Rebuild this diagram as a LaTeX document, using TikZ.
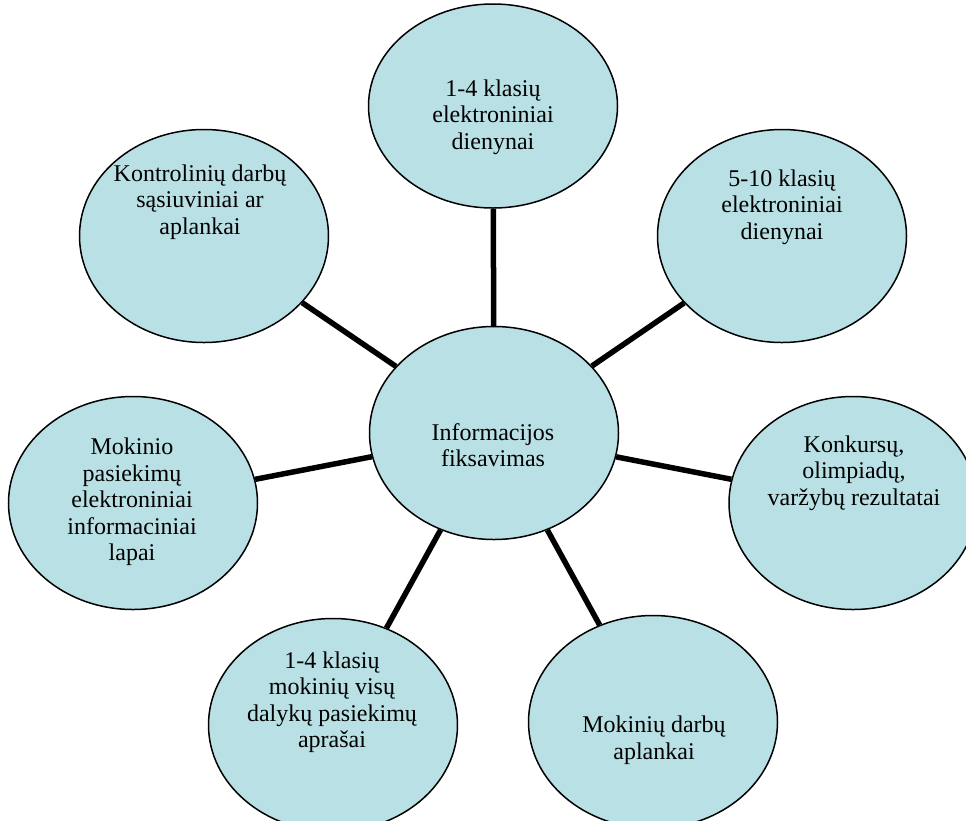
\documentclass[tikz,border=0pt]{standalone}
\usepackage{fontspec}
\setmainfont{Liberation Serif}
\usetikzlibrary{shapes.geometric}
\definecolor{bubble}{RGB}{185,224,228}
\tikzset{
  bub/.style={ellipse, draw=black, line width=1.5pt, fill=bubble, inner sep=0pt,
    minimum width=249pt, minimum height=213pt},
  lbl/.style={align=center, inner sep=0pt, font=\fontsize{24}{26.5}\selectfont},
  link/.style={line width=5.5pt, black}
}
\begin{document}
\begin{tikzpicture}[x=1pt,y=-1pt]
\useasboundingbox (0,0) rectangle (966,820);
\clip (0,0) rectangle (966,820);
\node[bub, minimum height=204pt] (t) at (493,106) {};
\node[bub] (c) at (494,433) {};
\node[bub] (tr) at (782,236) {};
\node[bub, minimum width=248pt] (r) at (853,503) {};
\node[bub] (br) at (653,722) {};
\node[bub] (bl) at (333,725) {};
\node[bub] (l) at (133,503) {};
\node[bub] (tl) at (204,236) {};

\draw[link] (c) -- (t);
\draw[link] (c) -- (tr);
\draw[link] (c) -- (r);
\draw[link] (c) -- (br);
\draw[link] (c) -- (bl);
\draw[link] (c) -- (l);
\draw[link] (c) -- (tl);

\node[lbl] (tt) at (493,117) {1-4 klasių\\elektroniniai\\dienynai};
\node[lbl] (ct) at (493,445) {Informacijos\\fiksavimas};
\node[lbl] (trt) at (782,207) {5-10 klasių\\elektroniniai\\dienynai};
\node[lbl] (rt) at (854,473) {Konkursų,\\olimpiadų,\\varžybų rezultatai};
\node[lbl] (brt) at (654,740) {Mokinių darbų\\aplankai};
\node[lbl] (blt) at (332,702) {1-4 klasių\\mokinių visų\\dalykų pasiekimų\\aprašai};
\node[lbl] (lt) at (132,502) {Mokinio\\pasiekimų\\elektroniniai\\informaciniai\\lapai};
\node[lbl] (tlt) at (200,202) {Kontrolinių darbų\\sąsiuviniai ar\\aplankai};
\end{tikzpicture}
\end{document}
